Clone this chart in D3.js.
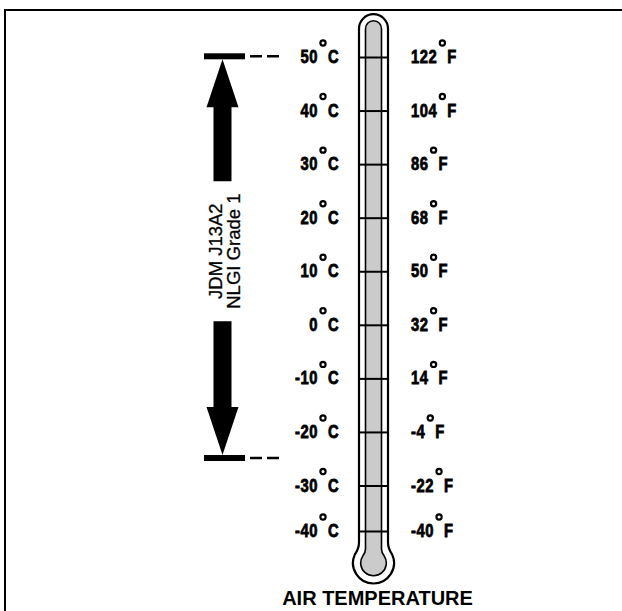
<!DOCTYPE html>
<html>
<head>
<meta charset="utf-8">
<script src="https://cdn.jsdelivr.net/npm/d3@7"></script>
<style>
  body { margin: 0; background: #fff; }
  svg { display: block; }
</style>
</head>
<body>
<div id="container"></div>
<script>
// scale values
var celsius = [50, 40, 30, 20, 10, 0, -10, -20, -30, -40];
var fahrenheit = [122, 104, 86, 68, 50, 32, 14, -4, -22, -40];
var greaseRange = [-25, 50];          // degC span of the arrow
var greaseLabel = ["JDM J13A2", "NLGI Grade 1"];
var axisTitle = "AIR TEMPERATURE";

var width = 622, height = 611;
var svg = d3.select("#container").append("svg")
  .attr("width", width)
  .attr("height", height);

// frame (only top and left edges show)
svg.append("path")
  .attr("d", "M5," + height + "V10H" + width)
  .attr("fill", "none")
  .attr("stroke", "#000")
  .attr("stroke-width", 2);

// the drawing's ticks are even except the last step
var y = d3.scaleLinear()
  .domain([50, -30, -40])
  .range([57.5, 486, 531.5]);

var cx = 373.5;
var topArc = 28.7;   // centre of the tube's rounded top
var bulbY = 563;

function tubePath(w, r, f) {
  var dy = Math.sqrt(r * r - w * w);
  var yJ = bulbY - dy;
  var ex = w + f * 0.7;
  var ey = bulbY - Math.sqrt(r * r - ex * ex);
  return "M" + (cx - w) + "," + topArc +
    "A" + w + "," + w + " 0 0 1 " + (cx + w) + "," + topArc +
    "L" + (cx + w) + "," + (yJ - f) +
    "Q" + (cx + w) + "," + yJ + " " + (cx + ex) + "," + ey +
    "A" + r + "," + r + " 0 1 1 " + (cx - ex) + "," + ey +
    "Q" + (cx - w) + "," + yJ + " " + (cx - w) + "," + (yJ - f) + "Z";
}

var outerW = 14.5;
svg.append("path")
  .attr("d", tubePath(outerW, 20.5, 6))
  .attr("fill", "#fff")
  .attr("stroke", "#000")
  .attr("stroke-width", 2.2);

svg.append("path")
  .attr("d", tubePath(8, 12.8, 4))
  .attr("fill", "#cbcbcb")
  .attr("stroke", "#000")
  .attr("stroke-width", 1.6);

svg.selectAll("line.tick")
  .data(celsius)
  .enter().append("line")
  .attr("class", "tick")
  .attr("x1", cx - outerW)
  .attr("x2", cx + outerW)
  .attr("y1", function(d) { return y(d); })
  .attr("y2", function(d) { return y(d); })
  .attr("stroke", "#000")
  .attr("stroke-width", 2);

// degree labels - condensed heavy look by squeezing Liberation Sans Bold
var labFont = "'Liberation Sans', Arial, sans-serif";
var sx = 0.82;

function squeezed(g, s) {
  return g.append("text")
    .attr("font-family", labFont)
    .attr("font-weight", "bold")
    .attr("font-size", 18)
    .attr("letter-spacing", 0.7)
    .attr("fill", "#000")
    .attr("stroke", "#000")
    .attr("stroke-width", 0.8)
    .text(s);
}

function degLabel(g, num, unit, x, base, anchorEnd) {
  var t = squeezed(g, String(num));
  var len = t.node().getComputedTextLength() * sx;
  var x0 = anchorEnd ? x - len : x;
  t.attr("transform", "translate(" + x0 + "," + base + ") scale(" + sx + ",1)");
  var xe = x0 + len;
  g.append("circle")
    .attr("cx", xe + 5)
    .attr("cy", base - 20)
    .attr("r", 2.6)
    .attr("fill", "#fff")
    .attr("stroke", "#000")
    .attr("stroke-width", 2.2);
  squeezed(g, unit)
    .attr("transform", "translate(" + (xe + 10) + "," + base + ") scale(" + sx + ",1)");
}

var labels = svg.append("g");
celsius.forEach(function(c, i) {
  var base = y(c) + 5.5;
  degLabel(labels, c, "C", 318, base, true);
  degLabel(labels, fahrenheit[i], "F", 411, base, false);
});

// grease range arrow
var ax = 222.5;
var yTop = y(greaseRange[1]) - 1.2;
var yBot = y(greaseRange[0]) - 1.2;
var mid = (yTop + yBot) / 2 - 6;
var head = 48, headW = 16, shaftW = 9, gap = 70;
var arrow = svg.append("g").attr("fill", "#000");

[yTop, yBot].forEach(function(v) {
  arrow.append("rect")
    .attr("x", 204).attr("y", v - 3)
    .attr("width", 41).attr("height", 6);
  svg.append("line")
    .attr("x1", 250).attr("x2", 280)
    .attr("y1", v).attr("y2", v)
    .attr("stroke", "#000")
    .attr("stroke-width", 2.5)
    .attr("stroke-dasharray", "12,5");
});

arrow.append("path")
  .attr("d", "M" + ax + "," + (yTop + 3) +
    "L" + (ax + headW) + "," + (yTop + 3 + head) +
    "H" + (ax + shaftW) + "V" + (mid - gap) +
    "H" + (ax - shaftW) + "V" + (yTop + 3 + head) +
    "H" + (ax - headW) + "Z");

arrow.append("path")
  .attr("d", "M" + ax + "," + (yBot - 3) +
    "L" + (ax + headW) + "," + (yBot - 3 - head) +
    "H" + (ax + shaftW) + "V" + (mid + gap) +
    "H" + (ax - shaftW) + "V" + (yBot - 3 - head) +
    "H" + (ax - headW) + "Z");

greaseLabel.forEach(function(s, i) {
  svg.append("text")
    .attr("transform", "translate(" + (221.5 + i * 18.5) + "," + mid + ") rotate(-90)")
    .attr("text-anchor", "middle")
    .attr("font-family", "'Liberation Sans', Arial, sans-serif")
    .attr("font-size", 18.5)
    .attr("fill", "#000")
    .attr("stroke", "#000")
    .attr("stroke-width", 0.3)
    .text(s);
});

svg.append("text")
  .attr("x", 377.5)
  .attr("y", 605)
  .attr("text-anchor", "middle")
  .attr("font-family", "'Liberation Sans', Arial, sans-serif")
  .attr("font-weight", "bold")
  .attr("font-size", 20)
  .attr("fill", "#000")
  .text(axisTitle);
</script>
</body>
</html>
